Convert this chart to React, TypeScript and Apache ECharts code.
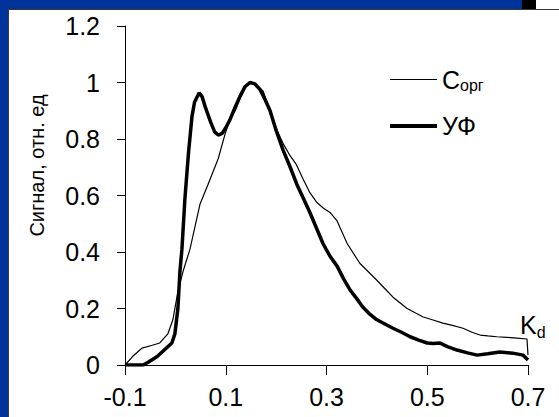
import React, { useEffect, useRef } from "react";
import * as echarts from "echarts";

const xTicks = [-0.1, 0.1, 0.3, 0.5, 0.7];
const yTicks = [0, 0.2, 0.4, 0.6, 0.8, 1, 1.2];

const uvX = [-0.1, -0.064, -0.054, -0.036, -0.021, -0.007, -0.001, 0.005, 0.009, 0.013, 0.019, 0.026, 0.033, 0.038, 0.047, 0.053, 0.06, 0.07, 0.078, 0.085, 0.093, 0.1, 0.108, 0.118, 0.128, 0.138, 0.148, 0.158, 0.168, 0.178, 0.188, 0.2, 0.214, 0.228, 0.241, 0.254, 0.267, 0.28, 0.293, 0.307, 0.321, 0.334, 0.347, 0.36, 0.372, 0.386, 0.4, 0.416, 0.432, 0.45, 0.466, 0.483, 0.5, 0.512, 0.525, 0.54, 0.559, 0.58, 0.599, 0.62, 0.644, 0.67, 0.69, 0.7];
const uvY = [0, 0, 0.01, 0.03, 0.055, 0.078, 0.11, 0.2, 0.33, 0.41, 0.59, 0.75, 0.88, 0.93, 0.963, 0.95, 0.91, 0.86, 0.825, 0.814, 0.82, 0.84, 0.867, 0.91, 0.95, 0.985, 1.0, 0.995, 0.975, 0.94, 0.9, 0.83, 0.76, 0.7, 0.64, 0.59, 0.54, 0.485, 0.43, 0.385, 0.35, 0.305, 0.265, 0.235, 0.205, 0.18, 0.16, 0.145, 0.13, 0.115, 0.1, 0.088, 0.078, 0.076, 0.078, 0.065, 0.053, 0.043, 0.035, 0.04, 0.046, 0.042, 0.035, 0.018];

const corgX = [-0.1, -0.085, -0.066, -0.046, -0.031, -0.015, -0.005, 0.005, 0.015, 0.029, 0.049, 0.065, 0.085, 0.099, 0.108, 0.12, 0.13, 0.14, 0.152, 0.162, 0.174, 0.188, 0.202, 0.215, 0.228, 0.24, 0.253, 0.267, 0.281, 0.294, 0.307, 0.321, 0.341, 0.366, 0.383, 0.4, 0.416, 0.432, 0.46, 0.476, 0.492, 0.51, 0.531, 0.55, 0.571, 0.59, 0.605, 0.62, 0.638, 0.658, 0.678, 0.698, 0.7];
const corgY = [0, 0.03, 0.06, 0.07, 0.078, 0.11, 0.16, 0.26, 0.33, 0.41, 0.57, 0.64, 0.73, 0.82, 0.867, 0.905, 0.95, 0.985, 1.0, 0.99, 0.97, 0.9, 0.83, 0.78, 0.74, 0.71, 0.66, 0.61, 0.575, 0.555, 0.54, 0.51, 0.43, 0.36, 0.33, 0.3, 0.27, 0.24, 0.2, 0.185, 0.17, 0.16, 0.148, 0.14, 0.13, 0.115, 0.106, 0.103, 0.1, 0.098, 0.095, 0.092, 0.035];

const seriesNames = ["Сорг", "УФ"];
const yAxisTitle = "Сигнал, отн. ед";

const FONT = "'Liberation Sans', Arial, sans-serif";

function zip(xs: number[], ys: number[]) {
  return xs.map((x, i) => [x, ys[i]]);
}

export default function App() {
  const ref = useRef<HTMLDivElement>(null);
  useEffect(() => {
    if (!ref.current) return;
    const chart = echarts.init(ref.current, null, { renderer: "svg" });
    chart.setOption({
      animation: false,
      backgroundColor: "#003399",
      textStyle: { fontFamily: FONT },
      graphic: [
        { type: "rect", z: -10, shape: { x: 536, y: 0, width: 23, height: 10 }, style: { fill: "#ffffff" } },
        { type: "rect", z: -10, shape: { x: 522, y: 0, width: 14, height: 9 }, style: { fill: "#000000" } },
        { type: "rect", z: -10, shape: { x: 8, y: 9, width: 551, height: 408 }, style: { fill: "#3a3a3a" } },
        { type: "rect", z: -9, shape: { x: 9, y: 10, width: 550, height: 407 }, style: { fill: "#ffffff" } },
        {
          type: "text",
          z: 10,
          x: 520,
          y: 310,
          style: {
            text: "{a|K}{b|d}",
            fill: "#000",
            rich: {
              a: { fontSize: 25, fontFamily: FONT, fill: "#000", color: "#000" },
              b: { fontSize: 16, fontFamily: FONT, fill: "#000", color: "#000", padding: [14, 0, 0, 0] },
            },
          },
        },
      ],
      grid: { left: 125, right: 31, top: 26, bottom: 52 },
      legend: {
        orient: "vertical",
        left: 383,
        top: 62,
        itemWidth: 47,
        itemHeight: 26,
        itemGap: 20,
        itemStyle: { opacity: 0 },
        data: [
          { name: seriesNames[0], lineStyle: { width: 1, color: "#000" }, itemStyle: { opacity: 0 } },
          { name: seriesNames[1], lineStyle: { width: 4, color: "#000" }, itemStyle: { opacity: 0 } },
        ],
        formatter: (name: string) => (name === seriesNames[0] ? "{a|C}{b|орг}" : "{a|" + name + "}"),
        textStyle: {
          color: "#000",
          fontFamily: FONT,
          fontSize: 25,
          rich: {
            a: { fontSize: 25, fontFamily: FONT, color: "#000" },
            b: { fontSize: 16, fontFamily: FONT, color: "#000", padding: [12, 0, 0, 0] },
          },
        },
      },
      xAxis: {
        type: "value",
        min: -0.1,
        max: 0.7,
        interval: 0.2,
        axisLine: { onZero: false, lineStyle: { color: "#000", width: 1 } },
        axisTick: { show: true, length: 10, lineStyle: { color: "#000" } },
        splitLine: { show: false },
        axisLabel: {
          color: "#000",
          fontSize: 25,
          fontFamily: FONT,
          margin: 19,
          formatter: (v: number) => {
            const t = xTicks.find((k) => Math.abs(k - v) < 1e-6);
            return t === undefined ? "" : t.toFixed(1);
          },
        },
      },
      yAxis: {
        type: "value",
        min: 0,
        max: 1.2,
        interval: 0.2,
        name: yAxisTitle,
        nameLocation: "middle",
        nameGap: 78,
        nameRotate: 90,
        nameTextStyle: { color: "#000", fontSize: 20, fontFamily: FONT, padding: [0, 0, 0, 60] },
        axisLine: { show: true, onZero: false, lineStyle: { color: "#000", width: 1 } },
        axisTick: { show: true, length: 8, lineStyle: { color: "#000" } },
        splitLine: { show: false },
        axisLabel: {
          color: "#000",
          fontSize: 25,
          fontFamily: FONT,
          margin: 25,
          formatter: (v: number) => {
            const t = yTicks.find((k) => Math.abs(k - v) < 1e-6);
            return t === undefined ? "" : String(t);
          },
        },
      },
      series: [
        {
          name: seriesNames[0],
          type: "line",
          data: zip(corgX, corgY),
          symbol: "none",
          lineStyle: { color: "#000", width: 1.2 },
          itemStyle: { color: "#000" },
          z: 3,
        },
        {
          name: seriesNames[1],
          type: "line",
          data: zip(uvX, uvY),
          symbol: "none",
          lineStyle: { color: "#000", width: 3.5 },
          itemStyle: { color: "#000" },
          z: 4,
        },
      ],
    });
    return () => chart.dispose();
  }, []);
  return (
    <div
      ref={ref}
      style={{ position: "fixed", left: 0, top: 0, width: 559, height: 417 }}
    />
  );
}
